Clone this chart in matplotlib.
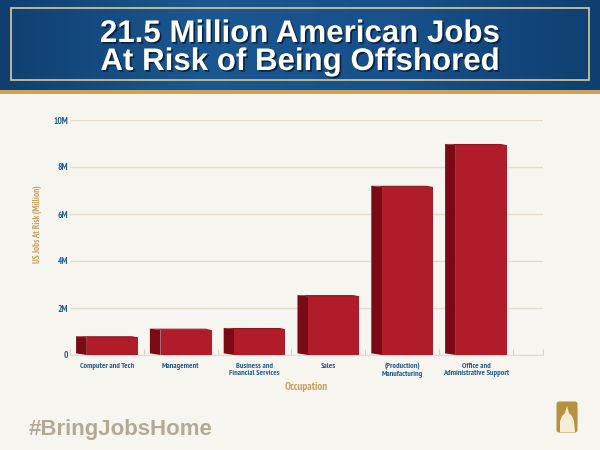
"""Empregos americanos em risco de offshoring, por ocupação."""

import matplotlib

matplotlib.use("Agg")
import matplotlib.pyplot as plt
import matplotlib.patheffects as pe
import numpy as np
from matplotlib.patches import Polygon, Rectangle, FancyBboxPatch

ocupacoes = [
    "Computer and Tech",
    "Management",
    "Business and\nFinancial Services",
    "Sales",
    "(Production)\nManufacturing",
    "Office and\nAdministrative Support",
]
empregos_milhoes = [0.75, 1.07, 1.10, 2.50, 7.15, 8.93]
ticks_y = [0, 2, 4, 6, 8, 10]
rotulos_y = ["0", "2M", "4M", "6M", "8M", "10M"]

FUNDO = "#F7F5F0"
AZUL = "#235B8C"
DOURADO = "#C4A060"
VERMELHO = "#B01C2A"
VERMELHO_ESCURO = "#7A0A16"
FONTE = ["PT Sans Narrow", "Liberation Sans", "DejaVu Sans"]
FONTE_TITULO = ["Liberation Sans", "DejaVu Sans"]

fig = plt.figure(figsize=(6, 4.5), dpi=100, facecolor=FUNDO)

# Cabeçalho azul com degradê
cab = fig.add_axes([0, 1 - 90 / 450, 1, 90 / 450])
gradiente = np.linspace(0, 1, 256).reshape(1, -1)
cab.imshow(
    gradiente, aspect="auto", extent=[0, 600, 90, 0],
    cmap=matplotlib.colors.LinearSegmentedColormap.from_list(
        "azul", ["#0F3F70", "#1B5790", "#17508A", "#0F3F70"]
    ),
)
cab.set_xlim(0, 600)
cab.set_ylim(90, 0)
cab.axis("off")
cab.add_patch(Rectangle((10.5, 7.5), 578, 72, fill=False,
                        edgecolor="#D9C9A0", linewidth=1.2))
sombra = [pe.withSimplePatchShadow(offset=(1.2, -1.2),
                                   shadow_rgbFace="#06182C", alpha=0.8)]
for y, linha in [(42, "21.5 Million American Jobs"),
                 (70, "At Risk of Being Offshored")]:
    cab.text(300, y, linha, ha="center", va="baseline",
             fontsize=22.5, fontweight="bold", family=FONTE_TITULO,
             color="white", path_effects=sombra)

faixa = fig.add_axes([0, 1 - 94 / 450, 1, 4 / 450])
faixa.set_facecolor("#C9A35A")
faixa.set_xticks([])
faixa.set_yticks([])
for lado in faixa.spines.values():
    lado.set_visible(False)

# Área do gráfico
esq, dir_, topo, base = 70, 543, 120, 355
eixo = fig.add_axes([esq / 600, 1 - base / 450,
                     (dir_ - esq) / 600, (base - topo) / 450])
eixo.set_facecolor(FUNDO)
largura_slot = 73.8
eixo.set_xlim(-0.5, (dir_ - esq) / largura_slot - 0.5)
eixo.set_ylim(0, 10)

posicoes = np.arange(len(ocupacoes))
frente = 0.69
lado_l = 0.145
total = frente + lado_l
for x, v in zip(posicoes, empregos_milhoes):
    x0 = x - total / 2
    x1 = x0 + lado_l
    # face lateral escura dá o efeito 3D
    eixo.add_patch(Polygon(
        [(x0, 0.07), (x1, 0), (x1, v), (x0, v + 0.05)],
        closed=True, facecolor=VERMELHO_ESCURO, edgecolor="none",
        zorder=3, clip_on=False,
    ))
    eixo.bar(x1, v, width=frente, align="edge", color=VERMELHO,
             edgecolor="none", zorder=3)
    eixo.add_patch(Polygon(
        [(x0, v + 0.05), (x1, v), (x1 + frente, v),
         (x1 + frente - 0.08, v + 0.05)],
        closed=True, facecolor="#8E1420", edgecolor="none", zorder=3,
        clip_on=False,
    ))

eixo.set_yticks(ticks_y, rotulos_y)
eixo.yaxis.grid(True, color="#E3DCCB", linewidth=1.0)
eixo.set_axisbelow(True)
eixo.tick_params(axis="y", length=0, pad=1.5, labelcolor=AZUL, labelsize=6.6)
for rot in eixo.get_yticklabels():
    rot.set_fontweight("bold")
    rot.set_family(FONTE)

eixo.set_xticks(posicoes, ocupacoes)
eixo.tick_params(axis="x", length=0, pad=6, labelcolor=AZUL, labelsize=5.8)
for rot in eixo.get_xticklabels():
    rot.set_fontweight("bold")
    rot.set_family(FONTE)
    rot.set_linespacing(1.0)
limites = list(np.arange(-0.5, 6, 1.0)) + [eixo.get_xlim()[1]]
eixo.set_xticks(limites, minor=True)
eixo.tick_params(axis="x", which="minor", direction="in", length=4,
                 color="#D8D2C4", width=0.8)

for nome, lado in eixo.spines.items():
    lado.set_visible(nome == "bottom")
eixo.spines["bottom"].set_color("#E3DCCB")

eixo.set_xlabel("Occupation", color=DOURADO, fontsize=7.8, family=FONTE,
                fontweight="bold", labelpad=3)
fig.text(37 / 600, 1 - 224 / 450, "US Jobs At Risk (Million)", rotation=90,
         ha="center", va="center", color=DOURADO, fontsize=6.5,
         family=FONTE, fontweight="bold")

# Rodapé
fig.text(29 / 600, 1 - 435 / 450, "#BringJobsHome", ha="left",
         va="baseline", color="#B3AA96", fontsize=16, fontweight="bold",
         family=FONTE_TITULO)
logo = fig.add_axes([556 / 600, 1 - 433 / 450, 22 / 600, 32 / 450])
logo.set_xlim(0, 22)
logo.set_ylim(0, 32)
logo.axis("off")
logo.add_patch(FancyBboxPatch((0.5, 0.5), 21, 31,
                              boxstyle="round,pad=0,rounding_size=2.5",
                              facecolor="#B8913F", edgecolor="none"))
logo.add_patch(Polygon(
    [(4, 1), (4, 12), (6, 17), (9, 20), (11, 27), (13, 20), (16, 17),
     (18, 12), (19, 1)],
    closed=True, facecolor="#F5EDD8", edgecolor="none"))

fig.savefig("out.png", dpi=100, facecolor=FUNDO)
